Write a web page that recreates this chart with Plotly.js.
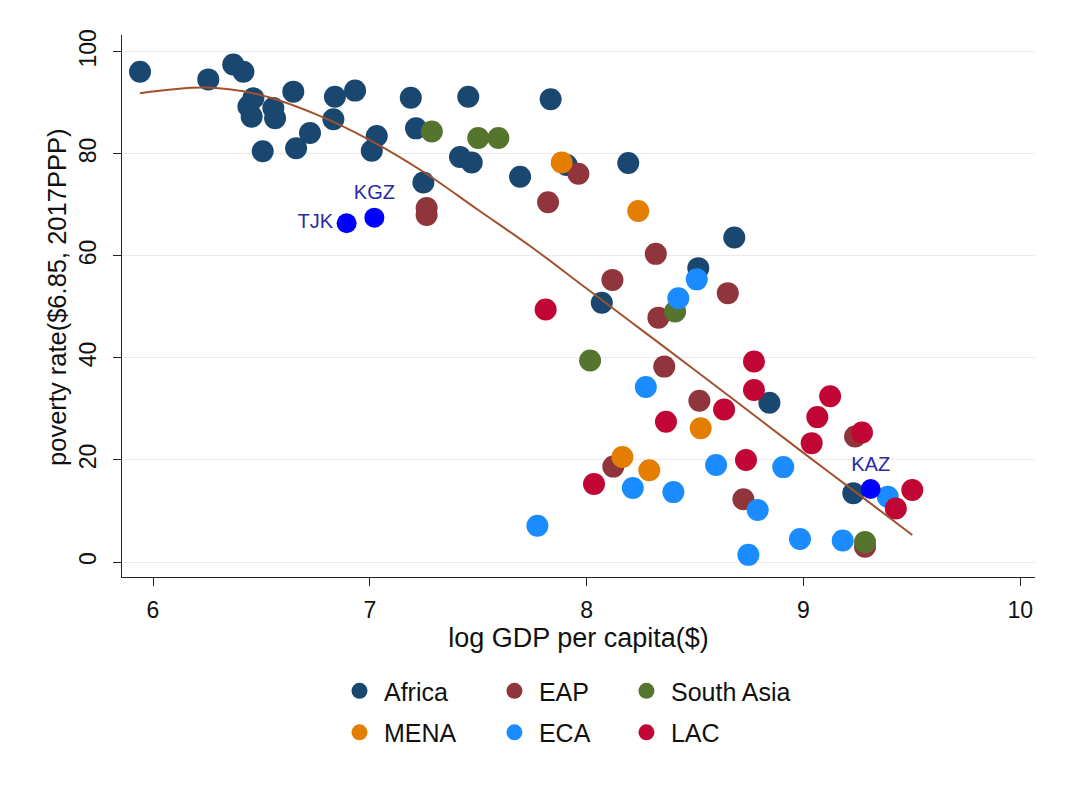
<!DOCTYPE html>
<html>
<head>
<meta charset="utf-8">
<script src="https://cdn.plot.ly/plotly-3.0.1.min.js"></script>
<style>
html,body{margin:0;padding:0;background:#fff;}
#chart{width:1071px;height:789px;}
</style>
</head>
<body>
<div id="chart"></div>
<script>
// ---- data ----
const regions = ["Africa", "EAP", "South Asia", "MENA", "ECA", "LAC"];

const africaX = [5.940, 6.255, 6.370, 6.417, 6.463, 6.440, 6.455, 6.555, 6.563, 6.506, 6.647, 6.660, 6.724, 6.839, 6.832, 6.932, 7.032, 7.009, 7.189, 7.213, 7.247, 7.454, 7.416, 7.470, 7.693, 7.834, 7.908, 8.192, 8.681, 8.515, 8.070, 8.843, 9.230];
const africaY = [96.1, 94.6, 97.5, 96.1, 90.9, 89.3, 87.3, 89.0, 87.0, 80.5, 92.2, 81.1, 84.1, 91.2, 86.8, 92.4, 83.5, 80.6, 91.0, 85.0, 74.4, 91.2, 79.4, 78.3, 75.5, 90.7, 77.8, 78.2, 63.6, 57.6, 50.8, 31.2, 13.5];

const eapX = [7.262, 7.262, 7.822, 7.962, 8.319, 8.119, 8.651, 8.331, 8.358, 8.520, 8.123, 8.723, 9.238, 9.284];
const eapY = [69.4, 68.0, 70.5, 76.1, 60.4, 55.3, 52.7, 47.9, 38.3, 31.6, 18.7, 12.3, 24.6, 3.0];

const saX = [7.286, 7.500, 7.593, 8.408, 8.016, 9.284];
const saY = [84.4, 83.1, 83.1, 49.1, 39.5, 3.9];

const menaX = [7.885, 8.238, 8.526, 8.165, 8.289];
const menaY = [78.3, 68.8, 26.2, 20.6, 18.0];

const ecaX = [8.508, 8.423, 8.273, 8.597, 8.907, 8.213, 8.400, 8.789, 7.773, 8.746, 8.984, 9.181, 9.389];
const ecaY = [55.4, 51.7, 34.3, 19.0, 18.6, 14.5, 13.7, 10.2, 7.1, 1.4, 4.5, 4.2, 12.8];

const lacX = [7.811, 8.772, 8.772, 8.634, 8.366, 9.123, 9.064, 9.038, 9.270, 8.735, 8.034, 9.426, 9.502];
const lacY = [49.5, 39.3, 33.7, 29.9, 27.5, 32.5, 28.4, 23.3, 25.4, 20.0, 15.3, 10.5, 14.1];

const hlCodes = ["TJK", "KGZ", "KAZ"];
const hlX = [6.893, 7.021, 9.310];
const hlY = [66.4, 67.5, 14.3];

const fitX = [5.94, 6.25, 6.50, 6.75, 7.00, 7.25, 7.50, 7.75, 8.00, 8.25, 8.50, 8.75, 9.00, 9.25, 9.502];
const fitY = [91.9, 93.0, 91.5, 87.8, 82.7, 76.4, 69.0, 61.6, 53.6, 45.6, 37.6, 29.5, 21.4, 13.4, 5.3];

const xTicks = [6, 7, 8, 9, 10];
const yTicks = [0, 20, 40, 60, 80, 100];
const xTitle = "log GDP per capita($)";
const yTitle = "poverty rate($6.85, 2017PPP)";

// ---- styling ----
const colors = {
  "Africa": "#1a476f",
  "EAP": "#90353b",
  "South Asia": "#55752f",
  "MENA": "#e37e00",
  "ECA": "#1a8cff",
  "LAC": "#c10534"
};
const legendOf = {
  "Africa": "legend", "MENA": "legend",
  "EAP": "legend2", "ECA": "legend2",
  "South Asia": "legend3", "LAC": "legend3"
};
const series = {
  "Africa": [africaX, africaY],
  "EAP": [eapX, eapY],
  "South Asia": [saX, saY],
  "MENA": [menaX, menaY],
  "ECA": [ecaX, ecaY],
  "LAC": [lacX, lacY]
};
const FONT = "Liberation Sans, Arial, sans-serif";
const MS = 22;

const traces = regions.map(r => ({
  type: "scatter",
  mode: "markers",
  name: r,
  x: series[r][0],
  y: series[r][1],
  legend: legendOf[r],
  legendgroup: r,
  marker: {color: colors[r], size: MS, line: {width: 0}},
  hoverinfo: "x+y+name"
}));

traces.push({
  type: "scatter",
  mode: "markers+text",
  x: hlX,
  y: hlY,
  text: hlCodes,
  textposition: ["middle left", "top center", "top center"],
  textfont: {family: FONT, size: 20, color: "#2a2aa6"},
  marker: {color: "#0000ff", size: 20, line: {width: 0}},
  showlegend: false
});

traces.push({
  type: "scatter",
  mode: "lines",
  x: fitX,
  y: fitY,
  line: {color: "#a0522d", width: 2, shape: "spline", smoothing: 1},
  showlegend: false,
  hoverinfo: "skip"
});

const legendBase = {
  orientation: "v",
  yanchor: "top",
  xanchor: "left",
  y: -0.168,
  font: {family: FONT, size: 25, color: "#111"},
  bgcolor: "rgba(0,0,0,0)",
  borderwidth: 0,
  tracegroupgap: 6,
  itemsizing: "trace",
  itemwidth: 39
};

const layout = {
  width: 1071,
  height: 789,
  paper_bgcolor: "#ffffff",
  plot_bgcolor: "#ffffff",
  margin: {l: 122, r: 36, t: 35, b: 212},
  font: {family: FONT, color: "#111"},
  xaxis: {
    range: [5.857, 10.068],
    tickvals: xTicks,
    ticktext: xTicks.map(String),
    showgrid: false,
    zeroline: false,
    showline: true,
    linecolor: "#222",
    linewidth: 1.3,
    ticks: "outside",
    ticklen: 8,
    tickwidth: 1.3,
    tickcolor: "#222",
    tickfont: {family: FONT, size: 23, color: "#111"},
    ticklabelstandoff: 4,
    title: {text: xTitle, font: {family: FONT, size: 27, color: "#111"}, standoff: 2}
  },
  yaxis: {
    range: [-2.94, 103.3],
    tickvals: yTicks,
    ticktext: yTicks.map(String),
    tickangle: -90,
    showgrid: true,
    gridcolor: "#ebebeb",
    gridwidth: 1.3,
    zeroline: false,
    showline: true,
    linecolor: "#222",
    linewidth: 1.3,
    ticks: "outside",
    ticklen: 8,
    tickwidth: 1.3,
    tickcolor: "#222",
    tickfont: {family: FONT, size: 23, color: "#111"},
    ticklabelstandoff: 8
  },
  annotations: [{
    text: yTitle,
    xref: "paper", yref: "paper",
    x: -0.0705, y: 0.516,
    xanchor: "center", yanchor: "middle",
    textangle: -90,
    showarrow: false,
    font: {family: FONT, size: 25.5, color: "#111"}
  }],
  legend: Object.assign({}, legendBase, {x: 0.2333}),
  legend2: Object.assign({}, legendBase, {x: 0.4030}),
  legend3: Object.assign({}, legendBase, {x: 0.5476}),
  showlegend: true
};

Plotly.newPlot("chart", traces, layout, {displayModeBar: false, responsive: false});
</script>
</body>
</html>
